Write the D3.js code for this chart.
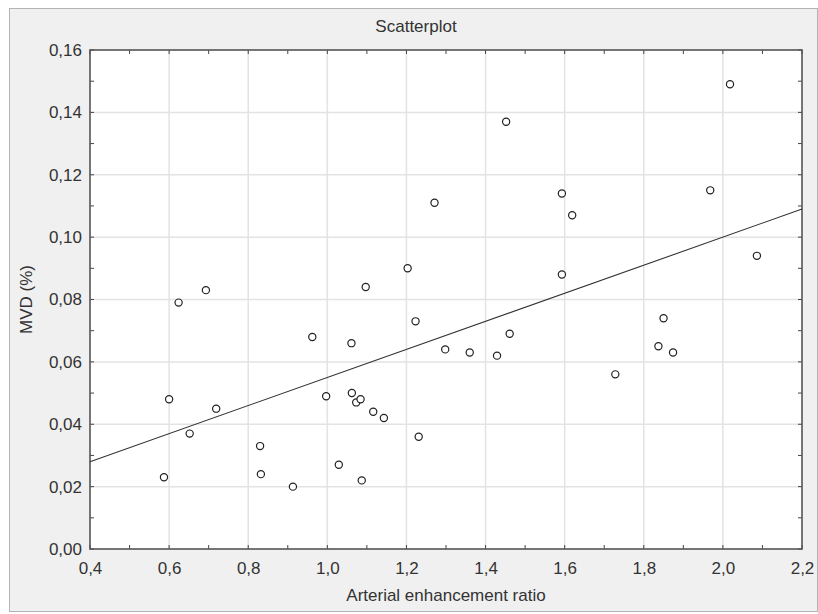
<!DOCTYPE html>
<html>
<head>
<meta charset="utf-8">
<script src="https://cdn.jsdelivr.net/npm/d3@7"></script>
<style>
  body { margin: 0; background: #fff; }
  text { font-family: "Liberation Sans", Arial, sans-serif; fill: #333; }
</style>
</head>
<body>
<div id="chart"></div>
<script>
// data
const xValues = [0.587, 0.600, 0.624, 0.652, 0.693, 0.719, 0.830, 0.832, 0.913, 0.962,
    0.997, 1.029, 1.061, 1.062, 1.073, 1.084, 1.087, 1.097, 1.116, 1.143,
    1.203, 1.223, 1.231, 1.271, 1.298, 1.360, 1.429, 1.452, 1.461, 1.593,
    1.619, 1.593, 1.728, 1.837, 1.850, 1.874, 1.968, 2.018, 2.086];
const yValues = [0.023, 0.048, 0.079, 0.037, 0.083, 0.045, 0.033, 0.024, 0.020, 0.068,
    0.049, 0.027, 0.066, 0.050, 0.047, 0.048, 0.022, 0.084, 0.044, 0.042,
    0.090, 0.073, 0.036, 0.111, 0.064, 0.063, 0.062, 0.137, 0.069, 0.114,
    0.107, 0.088, 0.056, 0.065, 0.074, 0.063, 0.115, 0.149, 0.094];
// fitted line
const fitX = [0.4, 2.2];
const fitY = [0.028, 0.109];

const xTicks = [0.4, 0.6, 0.8, 1.0, 1.2, 1.4, 1.6, 1.8, 2.0, 2.2];
const yTicks = [0, 0.02, 0.04, 0.06, 0.08, 0.10, 0.12, 0.14, 0.16];
const xMinor = d3.range(0.4, 2.2001, 0.1);
const yMinor = d3.range(0, 0.1601, 0.01);

const width = 818;
const height = 614;
const plot = {left: 90, right: 802, top: 50, bottom: 549};

var svg = d3.select("#chart").append("svg")
    .attr("width", width).attr("height", height);

// outer panel
svg.append("rect")
    .attr("x", 9.5).attr("y", 8.5)
    .attr("width", 808).attr("height", 603)
    .attr("fill", "#f0f0f0")
    .attr("stroke", "#b4b4b4");

svg.append("rect")
    .attr("x", plot.left).attr("y", plot.top)
    .attr("width", plot.right - plot.left).attr("height", plot.bottom - plot.top)
    .attr("fill", "#fff");

var x = d3.scaleLinear().domain([0.4, 2.2]).range([plot.left, plot.right]);
var y = d3.scaleLinear().domain([0, 0.16]).range([plot.bottom, plot.top]);

const comma = f => (d => d3.format(f)(d).replace(".", ","));

// grid
var grid = svg.append("g").attr("stroke", "#e3e3e3").attr("stroke-width", 1.5);
grid.selectAll(".gx").data(xTicks.slice(1, -1)).enter().append("line")
    .attr("x1", d => x(d)).attr("x2", d => x(d))
    .attr("y1", plot.top).attr("y2", plot.bottom);
grid.selectAll(".gy").data(yTicks.slice(1, -1)).enter().append("line")
    .attr("x1", plot.left).attr("x2", plot.right)
    .attr("y1", d => y(d)).attr("y2", d => y(d));

// inward ticks on all four sides
var ticks = svg.append("g").attr("stroke", "#444").attr("stroke-width", 1);
xMinor.forEach(function (d) {
    ticks.append("line").attr("x1", x(d)).attr("x2", x(d))
        .attr("y1", plot.bottom).attr("y2", plot.bottom - 4);
    ticks.append("line").attr("x1", x(d)).attr("x2", x(d))
        .attr("y1", plot.top).attr("y2", plot.top + 4);
});
yMinor.forEach(function (d) {
    ticks.append("line").attr("x1", plot.left).attr("x2", plot.left + 4)
        .attr("y1", y(d)).attr("y2", y(d));
    ticks.append("line").attr("x1", plot.right).attr("x2", plot.right - 4)
        .attr("y1", y(d)).attr("y2", y(d));
});

// axes labels through d3 axes
var xAxis = svg.append("g")
    .attr("transform", "translate(0," + plot.bottom + ")")
    .call(d3.axisBottom(x).tickValues(xTicks).tickFormat(comma(".1f")).tickSize(0).tickPadding(13));
var yAxis = svg.append("g")
    .attr("transform", "translate(" + plot.left + ",0)")
    .call(d3.axisLeft(y).tickValues(yTicks).tickFormat(comma(".2f")).tickSize(0).tickPadding(8));
[xAxis, yAxis].forEach(function (a) {
    a.select(".domain").remove();
    a.selectAll("text").attr("font-size", 17).attr("fill", "#333")
        .attr("font-family", "Liberation Sans, Arial, sans-serif");
});

// frame
svg.append("rect")
    .attr("x", plot.left).attr("y", plot.top)
    .attr("width", plot.right - plot.left).attr("height", plot.bottom - plot.top)
    .attr("fill", "none").attr("stroke", "#555").attr("stroke-width", 1.6);

// fit line
var line = d3.line().x(d => x(d[0])).y(d => y(d[1]));
svg.append("path")
    .datum(d3.zip(fitX, fitY))
    .attr("d", line)
    .attr("fill", "none")
    .attr("stroke", "#333")
    .attr("stroke-width", 1.1);

// points
svg.append("g").selectAll("circle")
    .data(d3.zip(xValues, yValues))
    .enter().append("circle")
    .attr("cx", d => x(d[0])).attr("cy", d => y(d[1]))
    .attr("r", 3.6)
    .attr("fill", "#fff")
    .attr("stroke", "#222")
    .attr("stroke-width", 1.2);

// titles
svg.append("text")
    .attr("x", 416).attr("y", 28)
    .attr("text-anchor", "middle").attr("dominant-baseline", "middle")
    .attr("font-size", 17)
    .text("Scatterplot");

svg.append("text")
    .attr("x", (plot.left + plot.right) / 2).attr("y", 597)
    .attr("text-anchor", "middle").attr("dominant-baseline", "middle")
    .attr("font-size", 17)
    .text("Arterial enhancement ratio");

svg.append("text")
    .attr("transform", "translate(28," + (plot.top + plot.bottom) / 2 + ") rotate(-90)")
    .attr("text-anchor", "middle").attr("dominant-baseline", "middle")
    .attr("font-size", 17)
    .text("MVD (%)");
</script>
</body>
</html>
